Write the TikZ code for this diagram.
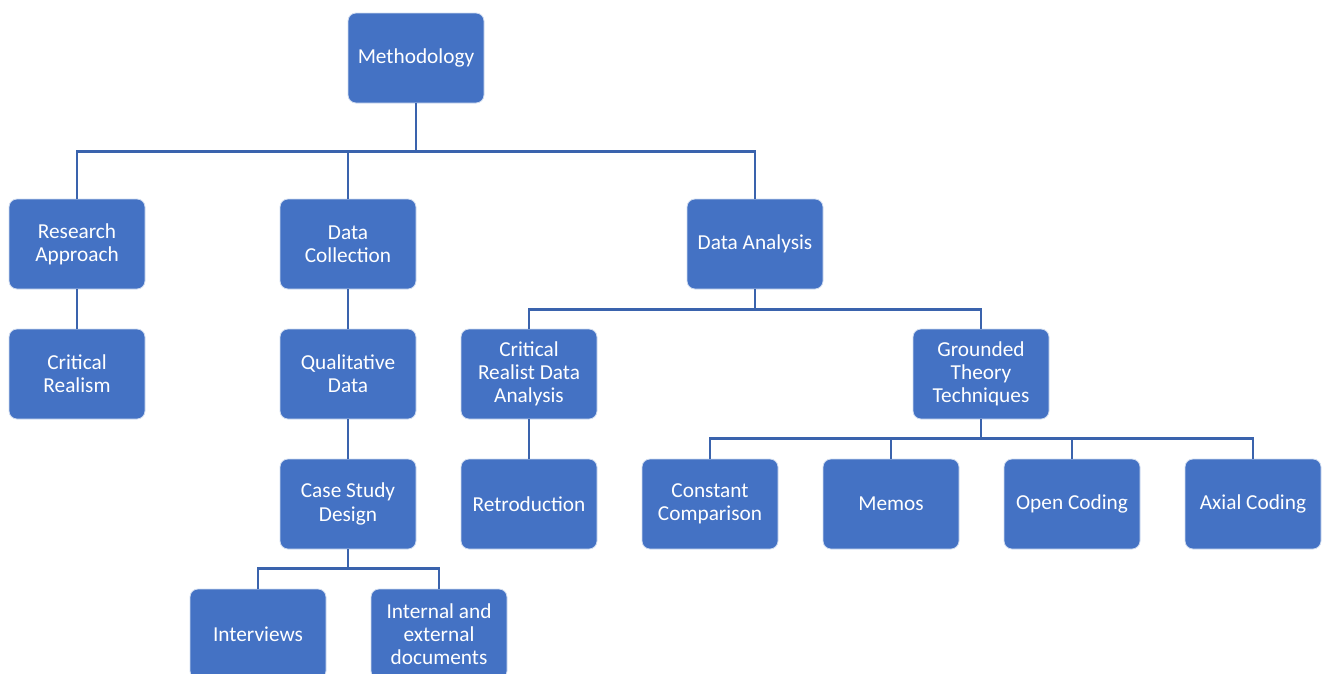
\documentclass[tikz,border=0pt]{standalone}
\usepackage{fontspec}
\setmainfont{Carlito}
\definecolor{boxblue}{HTML}{4472C4}
\definecolor{linkblue}{HTML}{3A63AD}
\begin{document}
\begin{tikzpicture}[x=1pt,y=-1pt,
  box/.style={rectangle, rounded corners=8pt, fill=boxblue, draw=white!75!boxblue,
    line width=0.8pt, minimum width=136pt, minimum height=90pt, inner sep=2pt,
    text=white, align=center, font=\fontsize{21.3}{23.3}\selectfont},
  link/.style={draw=linkblue, line width=2.4pt}]
\useasboundingbox (0,0) rectangle (1327,673);
\clip (0,0) rectangle (1327,673);
% top level
\node[box] (meth) at (416,58) {Methodology};
% second level
\node[box] (ra) at (77,244) {Research\\Approach};
\node[box] (dc) at (348,244) {Data\\Collection};
\node[box] (da) at (755,244) {Data Analysis};
% research approach branch
\node[box] (cr) at (77,374) {Critical\\Realism};
% data collection branch
\node[box] (qd) at (348,374) {Qualitative\\Data};
\node[box] (cs) at (348,504) {Case Study\\Design};
\node[box] (iv) at (258,634) {Interviews};
\node[box] (doc) at (439,634) {Internal and\\external\\documents};
% data analysis branch
\node[box] (crda) at (529,374) {Critical\\Realist Data\\Analysis};
\node[box] (gt) at (981,374) {Grounded\\Theory\\Techniques};
\node[box] (ret) at (529,504) {Retroduction};
\node[box] (cc) at (710,504) {Constant\\Comparison};
\node[box] (memo) at (891,504) {Memos};
\node[box] (oc) at (1072,504) {Open Coding};
\node[box] (ac) at (1253,504) {Axial Coding};
% connectors
\foreach \c in {ra,dc,da}
  \draw[link] (meth.south) -- ++(0,48) -| (\c.north);
\draw[link] (ra.south) -- (cr.north);
\draw[link] (dc.south) -- (qd.north);
\draw[link] (qd.south) -- (cs.north);
\foreach \c in {iv,doc}
  \draw[link] (cs.south) -- ++(0,19) -| (\c.north);
\foreach \c in {crda,gt}
  \draw[link] (da.south) -- ++(0,20) -| (\c.north);
\draw[link] (crda.south) -- (ret.north);
\foreach \c in {cc,memo,oc,ac}
  \draw[link] (gt.south) -- ++(0,19) -| (\c.north);
\end{tikzpicture}
\end{document}
